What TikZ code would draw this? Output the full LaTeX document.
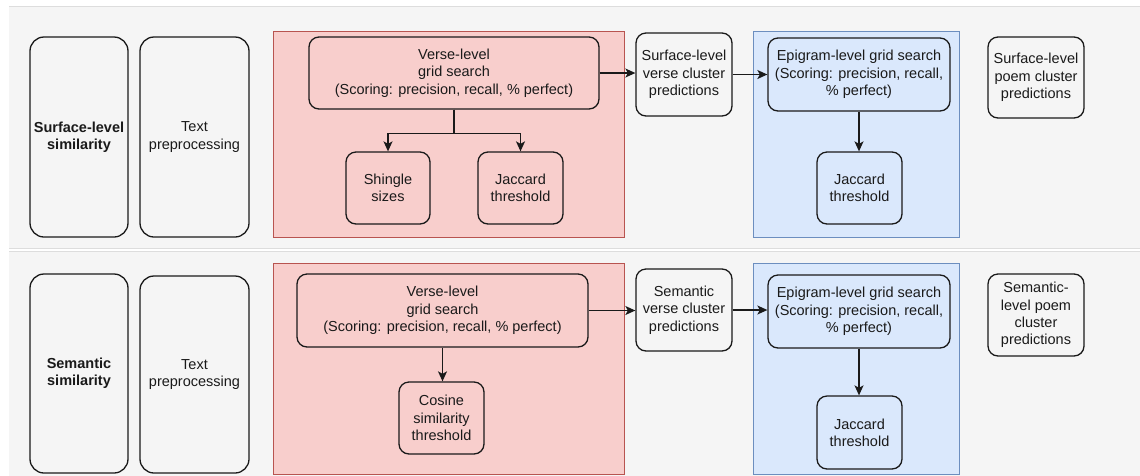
\documentclass[tikz,border=0pt]{standalone}
\usepackage{fontspec}
\setmainfont{Liberation Sans}
\usetikzlibrary{arrows.meta}
\definecolor{bandgrey}{HTML}{F5F5F5}
\definecolor{bandline}{HTML}{DDDDDD}
\definecolor{redfill}{HTML}{F8CECC}
\definecolor{redline}{HTML}{B85450}
\definecolor{bluefill}{HTML}{DAE8FC}
\definecolor{blueline}{HTML}{6C8EBF}
\definecolor{inkc}{HTML}{1A1A1A}
\begin{document}
\begin{tikzpicture}[x=1pt,y=-1pt,
  box/.style={draw=inkc, line width=1.3pt, rounded corners=10pt, align=center,
    inner sep=2pt, text=inkc, font=\fontsize{14.5}{17.3}\selectfont},
  tallbox/.style={box, rounded corners=14pt},
  redgroup/.style={fill=redfill, draw=redline, line width=0.9pt},
  bluegroup/.style={fill=bluefill, draw=blueline, line width=0.9pt},
  arr/.style={-{Stealth[length=10pt,width=9pt,inset=2.5pt]}, line width=1.3pt, draw=inkc}]
\useasboundingbox (0,0) rectangle (1140,475);
\fill[white] (0,0) rectangle (1140,475);
% bands
\fill[bandgrey] (9,6) rectangle (1140,248);
\draw[bandline, line width=1pt] (9,6) -- (1140,6) (9,248) -- (1140,248);
\fill[bandgrey] (9,251) rectangle (1140,476);
\draw[bandline, line width=1pt] (9,251) -- (1140,251);
% group containers
\draw[redgroup] (273,31) rectangle (624,237);
\draw[bluegroup] (753,31) rectangle (959,237);
\draw[redgroup] (273,263) rectangle (624,474);
\draw[bluegroup] (753,263) rectangle (959,474);

% ---------- top row ----------
\node[tallbox, minimum width=98pt, minimum height=200pt] (ss) at (79,137)
  {\bfseries Surface-level\\\bfseries similarity};
\node[tallbox, minimum width=109pt, minimum height=200pt] (tp1) at (194.5,137)
  {Text\\preprocessing};
\node[box, minimum width=290pt, minimum height=72pt] (vt) at (454,73)
  {Verse-level\\grid search\\(Scoring: precision, recall, \% perfect)};
\node[box, minimum width=84pt, minimum height=72pt] (sh) at (388,188)
  {Shingle\\sizes};
\node[box, minimum width=85pt, minimum height=72pt] (jt1) at (520.5,188)
  {Jaccard\\threshold};
\node[box, minimum width=96pt, minimum height=83pt] (vc1) at (684,74.5)
  {Surface-level\\verse cluster\\predictions};
\node[box, minimum width=182pt, minimum height=73pt] (ep1) at (859,74.5)
  {Epigram-level grid search\\(Scoring: precision, recall,\\\% perfect)};
\node[box, minimum width=85pt, minimum height=72pt] (jt2) at (859.5,188)
  {Jaccard\\threshold};
\node[box, minimum width=96pt, minimum height=81pt] (pc1) at (1036,77.5)
  {Surface-level\\poem cluster\\predictions};

\draw[arr] (vt.south) -- ++(0,24) -| (sh.north);
\draw[arr] (vt.south) -- ++(0,24) -| (jt1.north);
\draw[arr] (vt.east) -- (vt.east -| vc1.west);
\draw[arr] (vc1.east) -- (vc1.east -| ep1.west);
\draw[arr] (ep1.south) -- (ep1.south |- jt2.north);

% ---------- bottom row ----------
\node[tallbox, minimum width=98pt, minimum height=199pt] (sem) at (79,373.5)
  {\bfseries Semantic\\\bfseries similarity};
\node[tallbox, minimum width=109pt, minimum height=197pt] (tp2) at (194.5,374.5)
  {Text\\preprocessing};
\node[box, minimum width=291pt, minimum height=73pt] (vb) at (442.5,310.5)
  {Verse-level\\grid search\\(Scoring: precision, recall, \% perfect)};
\node[box, minimum width=85pt, minimum height=72pt] (cs) at (441.5,418)
  {Cosine\\similarity\\threshold};
\node[box, minimum width=96pt, minimum height=82pt] (vc2) at (684,310)
  {Semantic\\verse cluster\\predictions};
\node[box, minimum width=182pt, minimum height=73pt] (ep2) at (859,311.5)
  {Epigram-level grid search\\(Scoring: precision, recall,\\\% perfect)};
\node[box, minimum width=85pt, minimum height=73pt] (jt3) at (859.5,432.5)
  {Jaccard\\threshold};
\node[box, minimum width=96pt, minimum height=82pt] (pc2) at (1036,315)
  {Semantic-\\level poem\\cluster\\predictions};

\draw[arr] (vb.south) -- (vb.south |- cs.north);
\draw[arr] (vb.east) -- (vb.east -| vc2.west);
\draw[arr] (vc2.east) -- (vc2.east -| ep2.west);
\draw[arr] (ep2.south) -- (ep2.south |- jt3.north);
\end{tikzpicture}
\end{document}
